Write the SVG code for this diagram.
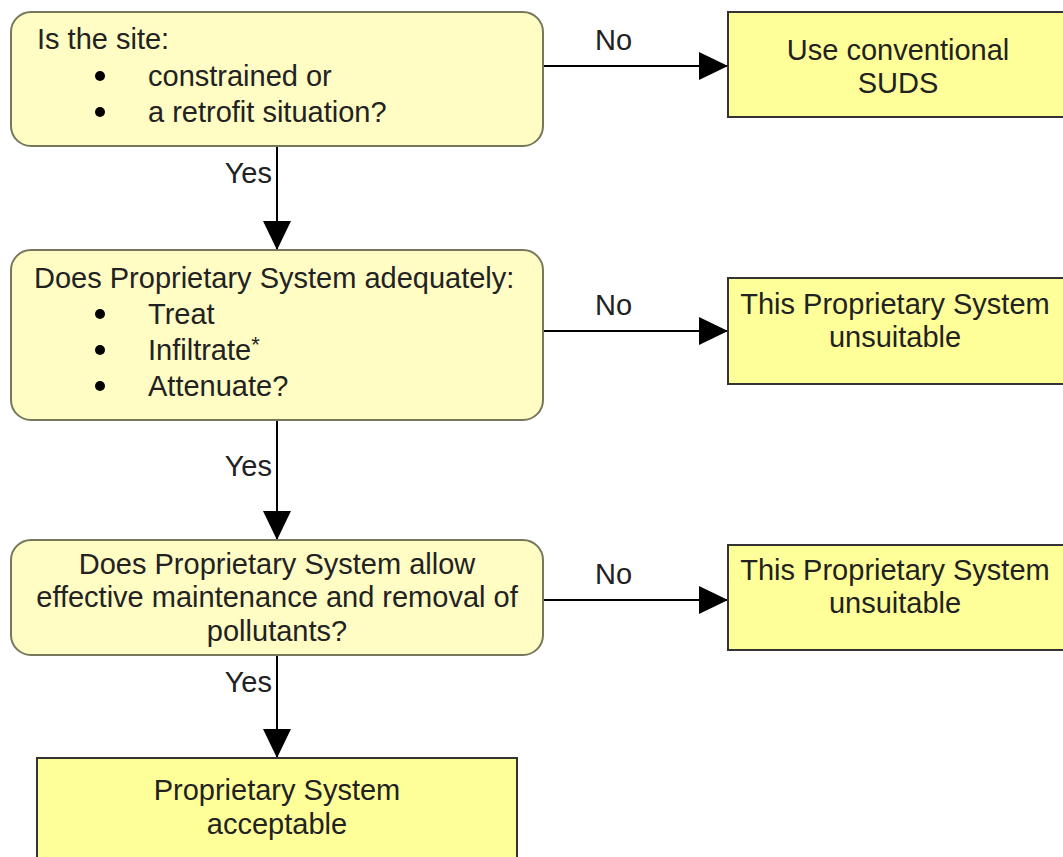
<svg xmlns="http://www.w3.org/2000/svg" width="1063" height="857" viewBox="0 0 1063 857">
<defs>
<marker id="arr" markerWidth="29" markerHeight="28" refX="29" refY="14" orient="auto" markerUnits="userSpaceOnUse">
<path d="M0,0 L29,14 L0,28 Z" fill="#000"/>
</marker>
</defs>
<style>
text{font-family:"Liberation Sans",Arial,sans-serif;font-size:29px;fill:#222}
.dec{fill:#fffcc4;stroke:#77775c;stroke-width:2}
.res{fill:#ffff99;stroke:#333;stroke-width:2}
.c{stroke:#000;stroke-width:2;fill:none}
.m{text-anchor:middle}
.e{text-anchor:end}
</style>
<rect width="1063" height="857" fill="#fff"/>
<g id="connectors">
<path class="c" d="M277,146 V250" marker-end="url(#arr)"/>
<path class="c" d="M277,420 V540" marker-end="url(#arr)"/>
<path class="c" d="M277,655 V758" marker-end="url(#arr)"/>
<path class="c" d="M543,66 H728" marker-end="url(#arr)"/>
<path class="c" d="M543,331 H728" marker-end="url(#arr)"/>
<path class="c" d="M543,600 H728" marker-end="url(#arr)"/>
<text x="272" y="183" class="e">Yes</text>
<text x="272" y="476" class="e">Yes</text>
<text x="272" y="692" class="e">Yes</text>
<text x="595" y="50">No</text>
<text x="595" y="315">No</text>
<text x="595" y="584">No</text>
</g>
<g id="q1">
<rect class="dec" x="11" y="12" width="532" height="134" rx="20"/>
<text x="37" y="49">Is the site:</text>
<circle cx="100" cy="76" r="5"/>
<circle cx="100" cy="112" r="5"/>
<text x="148" y="86">constrained or</text>
<text x="148" y="122">a retrofit situation?</text>
</g>
<g id="q2">
<rect class="dec" x="11" y="250" width="532" height="170" rx="20"/>
<text x="34" y="288">Does Proprietary System adequately:</text>
<circle cx="100" cy="314" r="5"/>
<circle cx="100" cy="350" r="5"/>
<circle cx="100" cy="386" r="5"/>
<text x="148" y="324">Treat</text>
<text x="148" y="360">Infiltrate<tspan dy="-8" font-size="22">*</tspan></text>
<text x="148" y="396">Attenuate?</text>
</g>
<g id="q3">
<rect class="dec" x="11" y="540" width="532" height="115" rx="20"/>
<text x="277" y="574" class="m">Does Proprietary System allow</text>
<text x="277" y="607" class="m">effective maintenance and removal of</text>
<text x="277" y="641" class="m">pollutants?</text>
</g>
<g id="r1">
<rect class="res" x="728" y="12" width="345" height="105"/>
<text x="898" y="60" class="m">Use conventional</text>
<text x="898" y="93" class="m">SUDS</text>
</g>
<g id="r2">
<rect class="res" x="728" y="278" width="345" height="106"/>
<text x="895" y="314" class="m">This Proprietary System</text>
<text x="895" y="347" class="m">unsuitable</text>
</g>
<g id="r3">
<rect class="res" x="728" y="545" width="345" height="105"/>
<text x="895" y="580" class="m">This Proprietary System</text>
<text x="895" y="613" class="m">unsuitable</text>
</g>
<g id="ok">
<rect class="res" x="37" y="758" width="480" height="110"/>
<text x="277" y="800" class="m">Proprietary System</text>
<text x="277" y="834" class="m">acceptable</text>
</g>
</svg>
